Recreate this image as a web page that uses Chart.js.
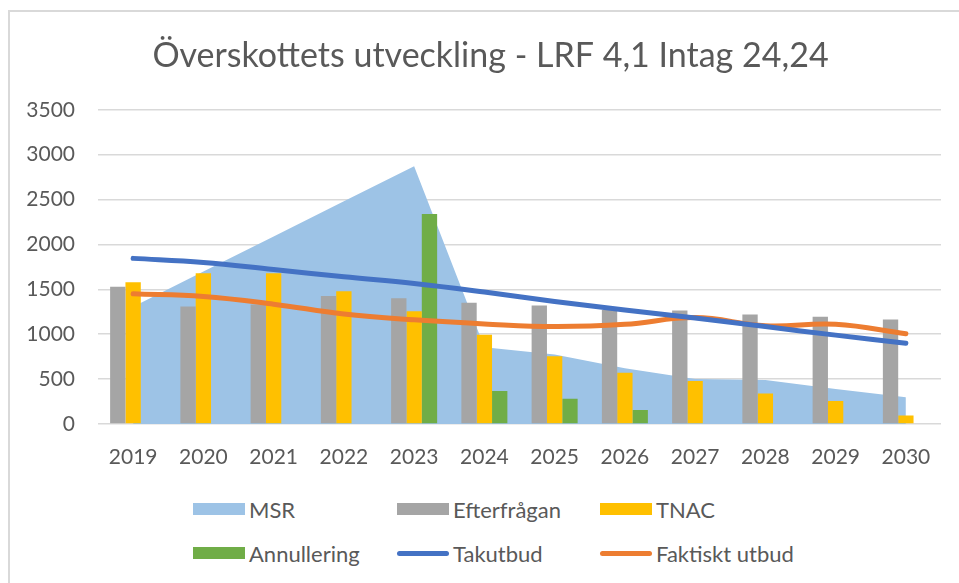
<!DOCTYPE html>
<html lang="sv">
<head>
<meta charset="utf-8">
<title>Överskottets utveckling</title>
<script src="https://cdn.jsdelivr.net/npm/chart.js@4"></script>
<style>
  html, body { margin: 0; padding: 0; background: #fff; }
  body { width: 959px; height: 583px; overflow: hidden; position: relative; font-family: Lato, sans-serif; }
  #frame { position: absolute; left: 8px; top: 10px; width: 1000px; height: 700px;
           border-left: 2px solid #d9d9d9; border-top: 2px solid #d9d9d9; }
  #wrap { position: absolute; left: 0; top: 0; width: 989px; height: 480px; }
  .leg { position: absolute; display: flex; align-items: center; color: #595959; font-size: 22px; white-space: nowrap; }
  .leg .sw { display: inline-block; width: 52px; height: 12px; margin-right: 4px; }
  .leg .ln { display: inline-block; width: 52px; height: 5px; border-radius: 3px; margin-right: 4px; }
</style>
</head>
<body>
<div id="frame"></div>
<div id="wrap"><canvas id="chart"></canvas></div>
<div id="legend"></div>

<script>
// Data
const years = ['2019', '2020', '2021', '2022', '2023', '2024', '2025', '2026', '2027', '2028', '2029', '2030'];
const msr = [1305, 1700, 2090, 2480, 2870, 855, 775, 620, 500, 490, 390, 297];
const efterfragan = [1530, 1310, 1330, 1425, 1400, 1350, 1320, 1270, 1265, 1220, 1195, 1165];
const tnac = [1580, 1680, 1680, 1480, 1255, 995, 755, 570, 480, 340, 255, 95];
const annullering = [null, null, null, null, 2340, 367, 282, 156, null, null, null, null];
const takutbud = [1845, 1800, 1720, 1640, 1565, 1470, 1365, 1270, 1180, 1085, 990, 900];
const faktisktUtbud = [1450, 1420, 1335, 1225, 1160, 1115, 1085, 1110, 1185, 1095, 1110, 1005];
const yTicks = [0, 500, 1000, 1500, 2000, 2500, 3000, 3500];

const textColor = '#595959';
const gridColor = '#d9d9d9';

document.addEventListener('DOMContentLoaded', () => {
  const canvas = document.getElementById('chart');

  const chart = new Chart(canvas, {
    type: 'bar',
    data: {
      labels: years,
      datasets: [
        {
          type: 'line',
          label: 'MSR',
          data: msr,
          fill: 'origin',
          backgroundColor: '#9DC3E6',
          borderColor: '#9DC3E6',
          borderWidth: 0,
          pointRadius: 0,
          tension: 0,
          order: 10,
          legendKind: 'box',
        },
        {
          label: 'Efterfrågan',
          data: efterfragan,
          backgroundColor: '#A5A5A5',
          order: 5,
          legendKind: 'box',
        },
        {
          label: 'TNAC',
          data: tnac,
          backgroundColor: '#FFC000',
          order: 5,
          legendKind: 'box',
        },
        {
          label: 'Annullering',
          data: annullering,
          backgroundColor: '#70AD47',
          order: 5,
          legendKind: 'box',
        },
        {
          type: 'line',
          label: 'Takutbud',
          data: takutbud,
          borderColor: '#4472C4',
          backgroundColor: '#4472C4',
          borderWidth: 5,
          borderCapStyle: 'round',
          pointRadius: 0,
          tension: 0.4,
          fill: false,
          order: 1,
          legendKind: 'line',
        },
        {
          type: 'line',
          label: 'Faktiskt utbud',
          data: faktisktUtbud,
          borderColor: '#ED7D31',
          backgroundColor: '#ED7D31',
          borderWidth: 5,
          borderCapStyle: 'round',
          pointRadius: 0,
          tension: 0.4,
          fill: false,
          order: 1,
          legendKind: 'line',
        },
      ]
    },
    options: {
      responsive: true,
      maintainAspectRatio: false,
      animation: false,
      datasets: {
        bar: { categoryPercentage: 0.655, barPercentage: 1.0 }
      },
      // canvas is a bit wider than the page; an empty right axis keeps the
      // plot in place while the title centres where the original has it
      layout: { padding: { left: 10, right: 18, top: 12, bottom: 0 } },
      plugins: {
        legend: { display: false },
        tooltip: { enabled: false },
        title: {
          display: true,
          text: 'Överskottets utveckling - LRF 4,1 Intag 24,24',
          color: textColor,
          font: { family: 'Lato', size: 34, weight: 'normal' },
          padding: { top: 24, bottom: 33 },
        },
      },
      scales: {
        x: {
          grid: { display: false },
          border: { display: false },
          ticks: { color: textColor, font: { family: 'Lato', size: 21 }, padding: 13 },
          afterFit: (scale) => { scale.height = 56; },
        },
        y: {
          min: 0,
          max: 3500,
          afterBuildTicks: (scale) => { scale.ticks = yTicks.map(v => ({ value: v })); },
          grid: { color: gridColor, lineWidth: 1.6, drawTicks: false },
          border: { display: false },
          ticks: {
            color: textColor,
            font: { family: 'Lato', size: 21 },
            padding: 23,
            callback: (value) => String(value),
          },
          afterFit: (scale) => { scale.width = 88; },
        },
        spacer: {
          type: 'linear',
          position: 'right',
          min: 0,
          max: 3500,
          grid: { display: false },
          border: { display: false },
          ticks: { display: false },
          afterFit: (scale) => { scale.width = 30; },
        }
      }
    }
  });

  // Legend in a 3-column grid, like the original
  const legendCols = [193, 397, 600];
  const legendRows = [509, 553];
  const legend = document.getElementById('legend');
  chart.data.datasets.forEach((ds, i) => {
    const item = document.createElement('div');
    item.className = 'leg';
    item.style.left = legendCols[i % 3] + 'px';
    item.style.top = (legendRows[Math.floor(i / 3)] - 14) + 'px';
    item.style.height = '28px';
    const sw = document.createElement('span');
    sw.className = ds.legendKind === 'line' ? 'ln' : 'sw';
    sw.style.background = ds.legendKind === 'line' ? ds.borderColor : ds.backgroundColor;
    item.appendChild(sw);
    item.appendChild(document.createTextNode(ds.label));
    legend.appendChild(item);
  });
});
</script>
</body>
</html>
